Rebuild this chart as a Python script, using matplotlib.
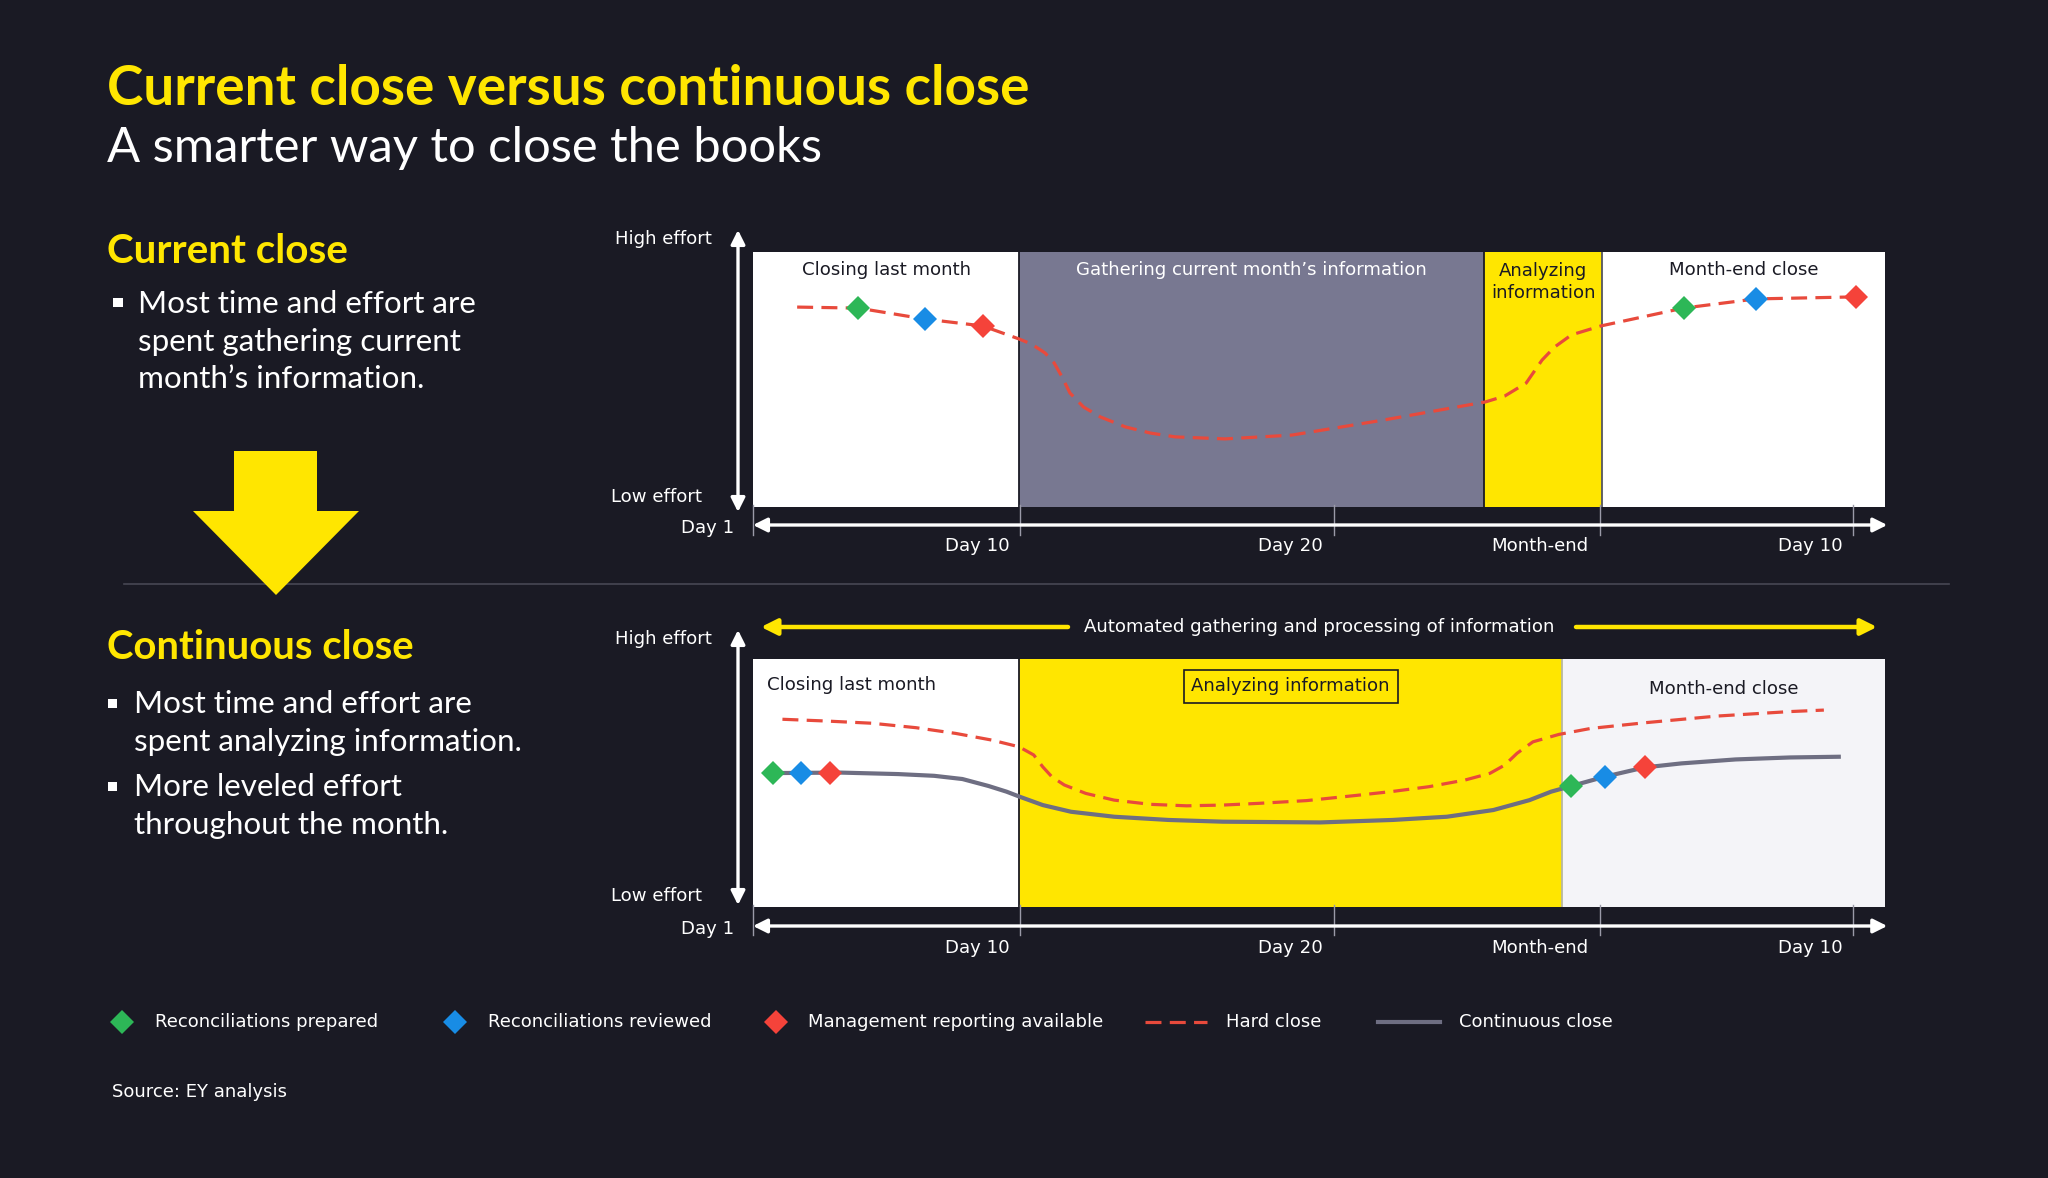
import matplotlib
matplotlib.use('Agg')
import matplotlib.pyplot as plt
import matplotlib.transforms as mtransforms
from matplotlib.patches import Polygon, Rectangle

# ---------------- data ----------------
tick_pos = [0, 23.6, 51.3, 74.8, 97.2]
tick_labels = ['Day 1', 'Day 10', 'Day 20', 'Month-end', 'Day 10']

top_phases = ['Closing last month', "Gathering current month\u2019s information",
              'Analyzing\ninformation', 'Month-end close']
top_edges = [0, 23.5, 64.6, 75.0, 100]
bot_phases = ['Closing last month', 'Analyzing information', 'Month-end close']
bot_edges = [0, 23.5, 71.5, 100]

hard_top_x = [3.9, 9.3, 15.2, 20.3, 23.5, 24.6, 25.8, 26.6, 27.3, 28.0, 29.2, 30.7, 32.9, 35.1,
              37.3, 41.7, 47.6, 55.7, 64.7, 66.4, 68.3, 69.7, 70.8, 72.3, 74.9, 82.2, 88.6, 97.4]
hard_top_y = [78.4, 78.0, 73.7, 71.0, 65.9, 63.9, 60.4, 56.5, 51.0, 44.7, 39.2, 35.3, 31.4, 29.0,
              27.5, 26.7, 28.2, 34.1, 41.2, 43.5, 48.6, 57.6, 62.7, 67.5, 71.0, 78.0, 81.6, 82.4]

hard_bot_x = [2.6, 6.4, 10.5, 14.4, 17.9, 21.1, 23.5, 24.8, 25.6, 26.4, 27.5, 29.4, 31.9, 35.1,
              38.3, 41.5, 44.7, 48.9, 53.3, 56.5, 59.7, 62.9, 65.1, 66.4, 67.5, 68.9, 71.2, 74.0,
              78.8, 85.2, 91.6, 94.6]
hard_bot_y = [75.7, 75.0, 74.1, 72.3, 70.0, 67.3, 64.6, 61.3, 56.5, 52.5, 49.2, 45.8, 43.1, 41.4,
              40.8, 41.1, 41.8, 42.9, 45.0, 46.6, 48.5, 51.2, 53.9, 57.2, 62.0, 66.6, 69.6, 72.0,
              74.3, 77.0, 78.8, 79.4]

cont_x = [1.8, 7.7, 12.8, 16.0, 18.5, 20.8, 22.4, 23.6, 25.6, 28.1, 31.9, 36.7, 41.5, 50.1,
          56.5, 61.3, 65.4, 68.6, 70.5, 72.3, 75.3, 78.8, 82.0, 86.8, 91.6, 96.1]
cont_y = [54.0, 54.2, 53.6, 52.9, 51.6, 48.8, 46.5, 44.4, 41.1, 38.4, 36.4, 35.1, 34.4, 34.1,
          35.1, 36.4, 39.1, 43.1, 46.5, 48.8, 52.6, 56.3, 57.9, 59.5, 60.3, 60.6]

# milestone markers: (x, y) per type
top_prepared = [(9.3, 78.0), (82.2, 78.0)]
top_reviewed = [(15.2, 73.7), (88.6, 81.6)]
top_reporting = [(20.3, 71.0), (97.4, 82.4)]
bot_prepared = [(1.8, 54.0), (72.3, 48.8)]
bot_reviewed = [(4.2, 54.0), (75.3, 52.6)]
bot_reporting = [(6.8, 54.0), (78.8, 56.3)]

legend_labels = ['Reconciliations prepared', 'Reconciliations reviewed',
                 'Management reporting available', 'Hard close', 'Continuous close']

# ---------------- style ----------------
W, H, DPI = 2048, 1178, 100
BG = '#1A1A24'
YEL = '#FFE600'
GREEN, BLUE, RED = '#2DB757', '#188CE5', '#F5433A'
RED_LINE = '#E84A3C'
GRAY_PH = '#787891'
LAV = '#F4F4F8'
CONT = '#6E6E82'
DARK = '#1A1A24'
TICKC = '#9A9AA8'
LEFT_FONT = 'Lato'
CH_FONT = 'DejaVu Sans'

fig = plt.figure(figsize=(W / DPI, H / DPI), dpi=DPI, facecolor=BG)
ov = fig.add_axes([0, 0, 1, 1])
ov.set_xlim(0, W)
ov.set_ylim(H, 0)
ov.axis('off')
ov.set_zorder(0)
PX = ov.transData
R = fig.canvas.get_renderer()


def fit(t, target):
    w = t.get_window_extent(R).width
    t.set_fontsize(t.get_fontsize() * target / w)
    return t.get_fontsize()


# ---------------- left column ----------------
t = ov.text(107, 105, 'Current close versus continuous close', color=YEL, family=LEFT_FONT,
            fontweight='bold', fontsize=36, va='baseline')
fit(t, 921)
t = ov.text(107, 162, 'A smarter way to close the books', color='white', family=LEFT_FONT,
            fontsize=32, va='baseline')
fit(t, 719)

t = ov.text(107, 263, 'Current close', color=YEL, family=LEFT_FONT, fontweight='bold',
            fontsize=26, va='baseline')
fit(t, 241)
t = ov.text(107, 659, 'Continuous close', color=YEL, family=LEFT_FONT, fontweight='bold',
            fontsize=26, va='baseline')
fit(t, 306)

t = ov.text(138, 313, 'Most time and effort are', color='white', family=LEFT_FONT,
            fontsize=20, va='baseline')
bs = fit(t, 339)
for s, y in [('spent gathering current', 351), ('month\u2019s information.', 388)]:
    ov.text(138, y, s, color='white', family=LEFT_FONT, fontsize=bs, va='baseline')
ov.add_patch(Rectangle((113, 298), 10, 9, color='white', lw=0))

for s, y in [('Most time and effort are', 713), ('spent analyzing information.', 751),
             ('More leveled effort', 796), ('throughout the month.', 834)]:
    ov.text(134, y, s, color='white', family=LEFT_FONT, fontsize=bs, va='baseline')
ov.add_patch(Rectangle((108, 699), 9, 9, color='white', lw=0))
ov.add_patch(Rectangle((108, 782), 9, 9, color='white', lw=0))

# separator and down arrow
ov.plot([124, 1949], [584, 584], color='#474753', lw=1.2)
ov.add_patch(Polygon([(234, 451), (317, 451), (317, 511), (359, 511), (276, 595),
                      (193, 511), (234, 511)], closed=True, color=YEL, lw=0, zorder=3))


# ---------------- charts ----------------
def box_axes(x0, y0, x1, y1):
    ax = fig.add_axes([x0 / W, 1 - y1 / H, (x1 - x0) / W, (y1 - y0) / H])
    ax.set_xlim(0, 100)
    ax.set_ylim(0, 100)
    ax.axis('off')
    ax.set_zorder(2)
    return ax


def chart_frame(ax, ybox_bot, y_arrow, y_lab, y_hi, y_lo, y_vtop, y_vbot, cs):
    bt = mtransforms.blended_transform_factory(ax.transData, PX)
    # vertical effort arrow
    ov.annotate('', xy=(738, y_vtop), xytext=(738, y_vbot), xycoords=PX,
                arrowprops=dict(arrowstyle='<|-|>,head_length=0.6,head_width=0.3', color='white',
                                lw=2.4, mutation_scale=14, shrinkA=0, shrinkB=0))
    ov.text(712, y_hi, 'High effort', color='white', family=CH_FONT, fontsize=cs, ha='right', va='center')
    ov.text(611, y_lo, 'Low effort', color='white', family=CH_FONT, fontsize=cs, ha='left', va='center')
    # time axis arrow
    ax.annotate('', xy=(100.2, y_arrow), xytext=(0, y_arrow), xycoords=bt, textcoords=bt,
                arrowprops=dict(arrowstyle='<|-|>,head_length=0.6,head_width=0.3', color='white',
                                lw=2.4, mutation_scale=14, shrinkA=0, shrinkB=0), annotation_clip=False)
    for i, (p, lab) in enumerate(zip(tick_pos, tick_labels)):
        ax.plot([p, p], [ybox_bot - 2, ybox_bot + 28], transform=bt, color=TICKC, lw=1,
                clip_on=False, zorder=1)
        if i == 0:
            ax.text(p, y_arrow + 3, lab, transform=bt + mtransforms.ScaledTranslation(-19 / DPI, 0, fig.dpi_scale_trans),
                    color='white', family=CH_FONT, fontsize=cs, ha='right', va='center')
        else:
            ax.text(p, y_lab, lab, transform=bt + mtransforms.ScaledTranslation(-11 / DPI, 0, fig.dpi_scale_trans),
                    color='white', family=CH_FONT, fontsize=cs, ha='right', va='center')


# chart label size fitted to the reference
tmp = ov.text(0, 0, top_phases[1], family=CH_FONT, fontsize=12)
CS = fit(tmp, 350)
tmp.remove()

# --- top chart ---
axT = box_axes(753, 252, 1885, 507)
for (a, b), c in zip(zip(top_edges[:-1], top_edges[1:]), ['white', GRAY_PH, YEL, 'white']):
    axT.axvspan(a, b, color=c, lw=0, zorder=0)
for e, c in zip(top_edges[1:-1], [DARK, DARK, '#55555F']):
    axT.axvline(e, color=c, lw=1.3, zorder=1)
for i, (lab, c) in enumerate(zip(top_phases, [DARK, 'white', DARK, DARK])):
    cx = (top_edges[i] + top_edges[i + 1]) / 2
    yy = 93.0 if i != 2 else 88.3
    axT.text(cx, yy, lab, color=c, family=CH_FONT, fontsize=CS, ha='center', va='center',
             linespacing=1.25)
axT.plot(hard_top_x, hard_top_y, color=RED_LINE, lw=2.3, ls=(0, (5, 2.6)), zorder=3)
for pts, c in [(top_prepared, GREEN), (top_reviewed, BLUE), (top_reporting, RED)]:
    axT.plot([p[0] for p in pts], [p[1] for p in pts], ls='none', marker='D', ms=12,
             color=c, mew=0, zorder=4, clip_on=False)
chart_frame(axT, 507, 525, 546, 239, 497, 230, 512, CS)

# --- bottom chart ---
axB = box_axes(753, 659, 1885, 907)
for (a, b), c in zip(zip(bot_edges[:-1], bot_edges[1:]), ['white', YEL, LAV]):
    axB.axvspan(a, b, color=c, lw=0, zorder=0)
for e, c in zip(bot_edges[1:-1], [DARK, '#B8B8A0']):
    axB.axvline(e, color=c, lw=1.3, zorder=1)
axB.text(1.2, 89.5, bot_phases[0], color=DARK, family=CH_FONT, fontsize=CS, ha='left', va='center')
axB.text((bot_edges[1] + bot_edges[2]) / 2, 89.0, bot_phases[1], color=DARK, family=CH_FONT,
         fontsize=CS, ha='center', va='center',
         bbox=dict(boxstyle='square,pad=0.42', fc=YEL, ec=DARK, lw=1.2))
axB.text((bot_edges[2] + bot_edges[3]) / 2, 88.0, bot_phases[2], color=DARK, family=CH_FONT,
         fontsize=CS, ha='center', va='center')
axB.plot(hard_bot_x, hard_bot_y, color=RED_LINE, lw=2.3, ls=(0, (5, 2.6)), zorder=3)
axB.plot(cont_x, cont_y, color=CONT, lw=3.0, zorder=3, solid_capstyle='butt', solid_joinstyle='round')
for pts, c in [(bot_prepared, GREEN), (bot_reviewed, BLUE), (bot_reporting, RED)]:
    axB.plot([p[0] for p in pts], [p[1] for p in pts], ls='none', marker='D', ms=12,
             color=c, mew=0, zorder=4, clip_on=False)
chart_frame(axB, 907, 926, 948, 639, 896, 630, 905, CS)

# automated gathering arrow
ov.annotate('', xy=(761, 627), xytext=(1068, 627), xycoords='data',
            arrowprops=dict(arrowstyle='-|>,head_length=0.6,head_width=0.3', color=YEL, lw=3.2,
                            mutation_scale=16, shrinkA=0, shrinkB=0))
ov.annotate('', xy=(1877, 627), xytext=(1576, 627), xycoords='data',
            arrowprops=dict(arrowstyle='-|>,head_length=0.6,head_width=0.3', color=YEL, lw=3.2,
                            mutation_scale=16, shrinkA=0, shrinkB=0))
ov.text(1319, 627, 'Automated gathering and processing of information', color='white',
        family=CH_FONT, fontsize=CS, ha='center', va='center')

# ---------------- legend ----------------
LY = 1022
tl = ov.text(155, LY, legend_labels[0], color='white', family=CH_FONT, fontsize=12, va='center')
LS = fit(tl, 221)
for x, c in [(122, GREEN), (455, BLUE), (776, RED)]:
    ov.plot([x], [LY], ls='none', marker='D', ms=12.5, color=c, mew=0)
ov.plot([1145, 1207], [LY, LY], color=RED_LINE, lw=2.3, ls=(0, (5, 2.6)))
ov.plot([1378, 1440], [LY, LY], color=CONT, lw=3.0)
for x, s in zip([488, 808, 1226, 1459], legend_labels[1:]):
    ov.text(x, LY, s, color='white', family=CH_FONT, fontsize=LS, va='center')

ts = ov.text(112, 1092, 'Source: EY analysis', color='white', family=CH_FONT, fontsize=LS, va='center')

fig.savefig('out.png', dpi=DPI, facecolor=BG)
